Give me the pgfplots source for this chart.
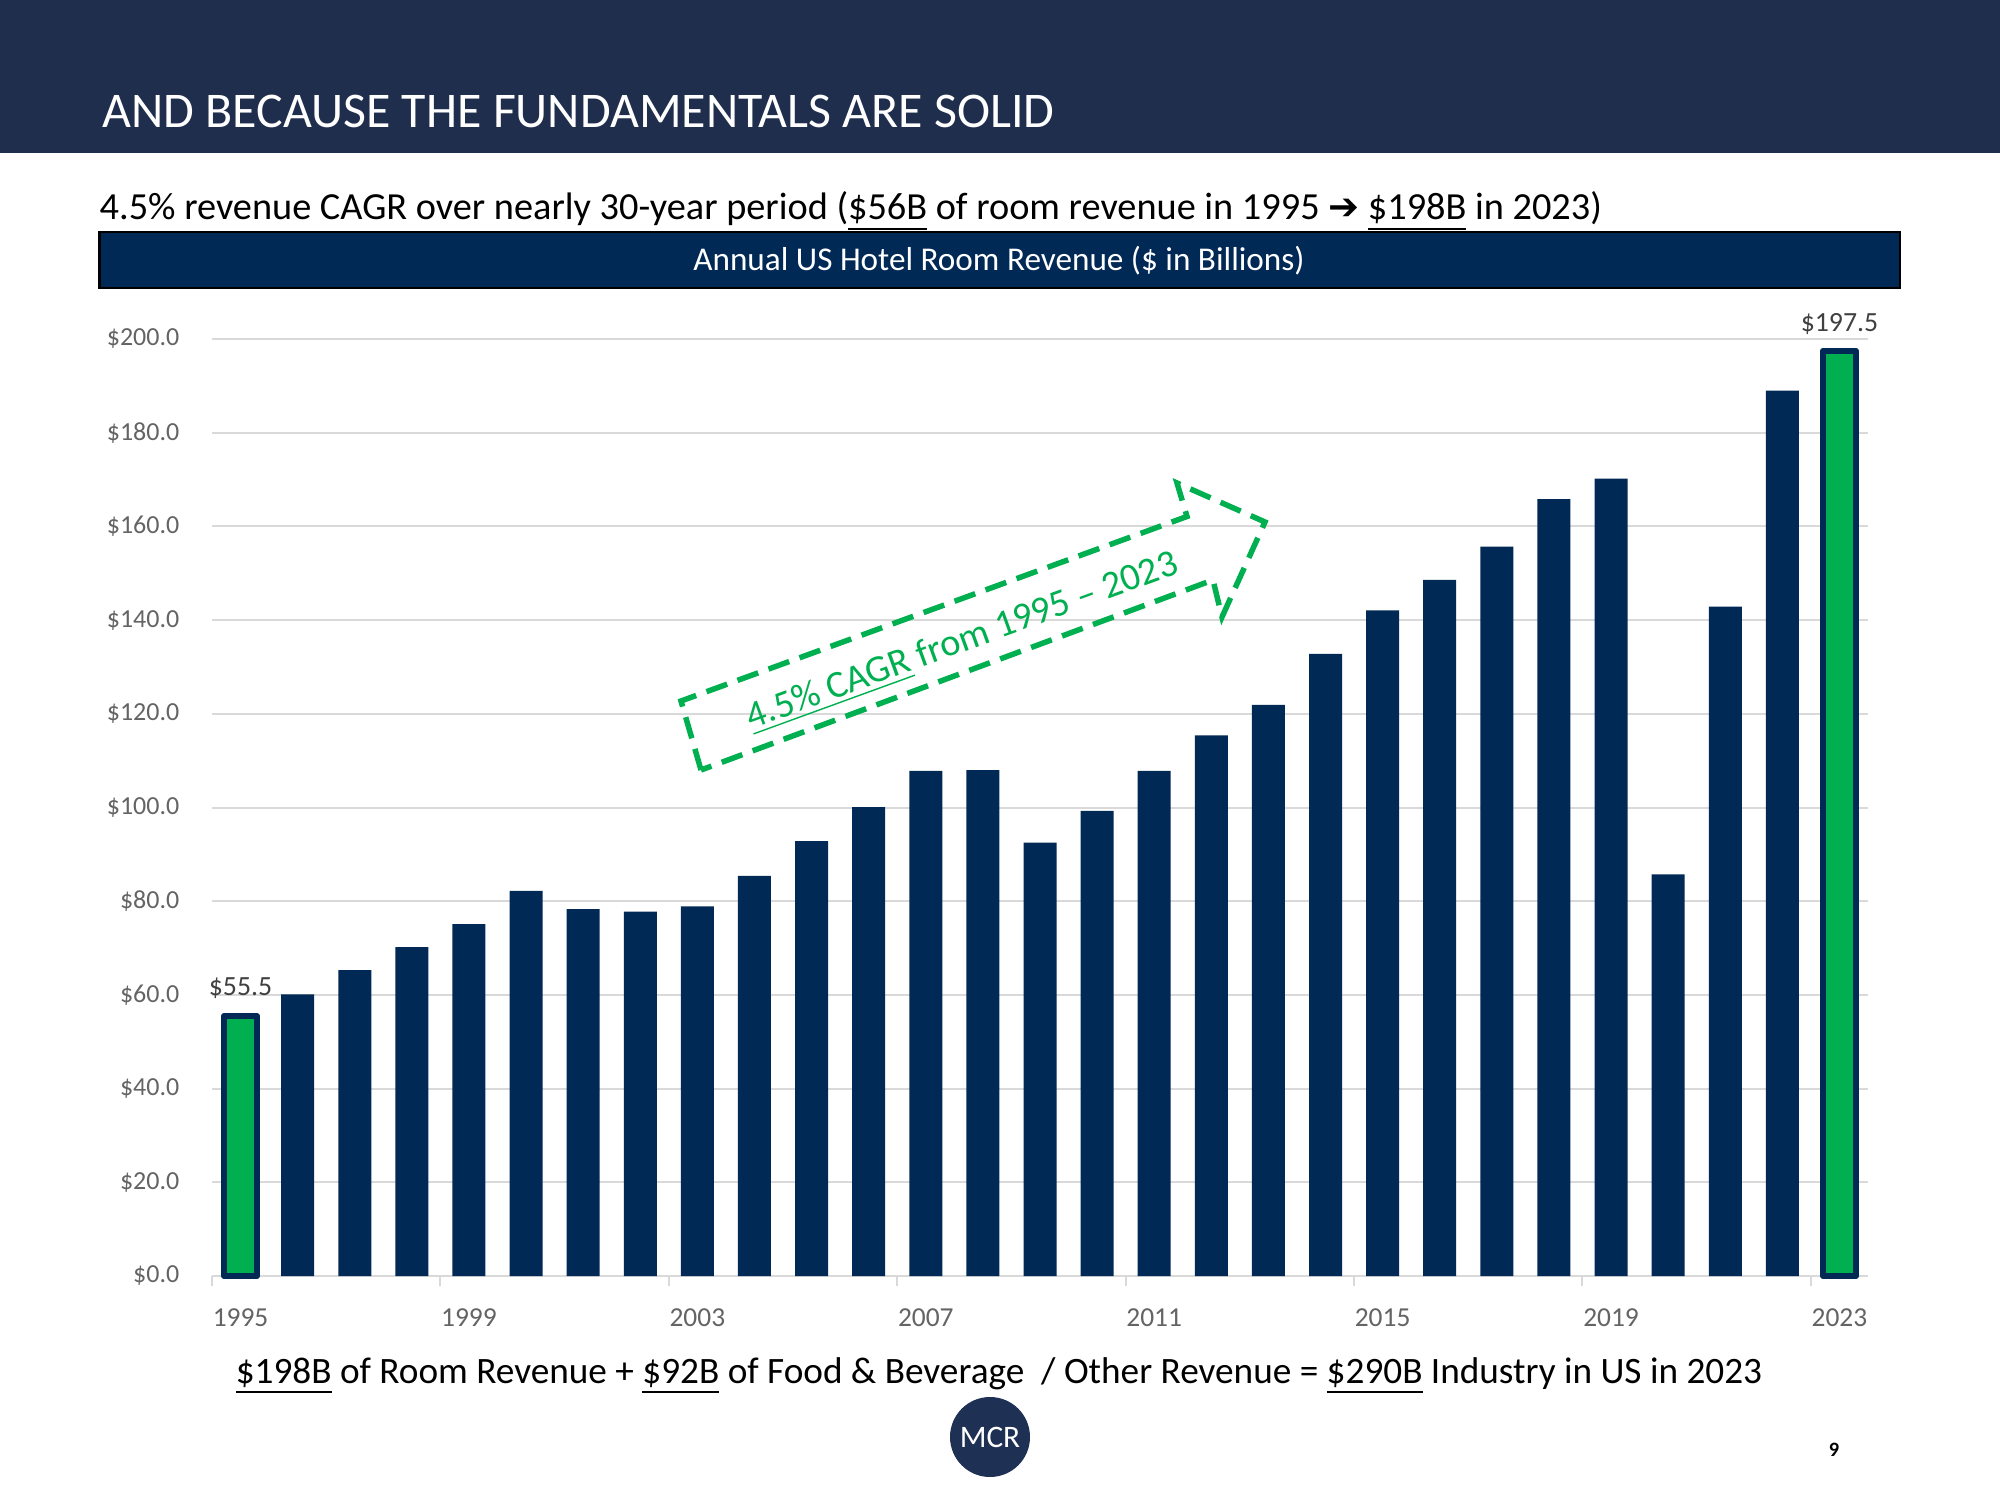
\documentclass[border=0pt]{standalone}
\usepackage{fontspec}
\setmainfont{Carlito}
\newfontfamily\dejavu{DejaVu Sans}
\usepackage{pgfplots}
\usepackage{pgfplotstable}
\pgfplotsset{compat=1.18}
\definecolor{headnavy}{RGB}{31,46,77}
\definecolor{barnavy}{RGB}{0,41,86}
\definecolor{bargreen}{RGB}{0,176,80}
\definecolor{gridgray}{RGB}{217,217,217}
\definecolor{ticklab}{RGB}{100,100,100}
\definecolor{datalab}{RGB}{64,64,64}
\definecolor{logonavy}{RGB}{31,48,85}

\pgfplotstableread{
x y
1 60.1
2 65.3
3 70.2
4 75.1
5 82.2
6 78.3
7 77.8
8 78.9
9 85.4
10 92.8
11 100.1
12 107.8
13 108.0
14 92.5
15 99.3
16 107.8
17 115.4
18 121.9
19 132.8
20 142.1
21 148.6
22 155.7
23 165.8
24 170.2
25 85.7
26 142.9
27 189.0
}\midbars
\pgfplotstableread{
x y
0 55.5
28 197.5
}\endbars

\begin{document}
\begin{tikzpicture}[x=1cm,y=1cm]
\fill[white] (0,0) rectangle (20,15);
\useasboundingbox (0,0) rectangle (20,15);
% header
\fill[headnavy] (0,13.47) rectangle (20,15);
\node[anchor=base west, inner sep=0pt, text=white, font=\fontsize{14.2}{16}\selectfont] at (1.02,13.72) {AND BECAUSE THE FUNDAMENTALS ARE SOLID};
% subtitle
\node[anchor=base west, inner sep=0pt, font=\fontsize{10.9}{13}\selectfont] at (0.99,12.80) {4.5\% revenue CAGR over nearly 30-year period (\underline{\$56B} of room revenue in 1995 {\dejavu\fontsize{10.5}{13}\selectfont ➔} \underline{\$198B} in 2023)};
% banner
\filldraw[fill=barnavy, draw=black, line width=0.25mm] (0.995,12.12) rectangle (19.0,12.68);
\node[anchor=base, inner sep=0pt, text=white, font=\fontsize{9.45}{11}\selectfont] at (9.99,12.29) {Annual US Hotel Room Revenue (\$ in Billions)};

\begin{axis}[
  at={(2.12cm,2.24cm)}, anchor=south west,
  scale only axis, width=16.56cm, height=9.37cm,
  xmin=-0.5, xmax=28.5, ymin=0, ymax=200,
  clip=false,
  axis lines*=left,
  y axis line style={draw=none},
  x axis line style={-, draw=gridgray, line width=0.25mm},
  ytick={0,20,...,200},
  yticklabels={\$0.0,\$20.0,\$40.0,\$60.0,\$80.0,\$100.0,\$120.0,\$140.0,\$160.0,\$180.0,\$200.0},
  ytick style={draw=none},
  ymajorgrids,
  grid style={draw=gridgray, line width=0.2mm},
  xtick={0,4,...,28},
  xticklabels={1995,1999,2003,2007,2011,2015,2019,2023},
  xtick style={draw=none},
  extra x ticks={-0.5,3.5,...,27.5},
  extra x tick labels={},
  extra x tick style={tick align=outside, major tick length=1mm, xtick style={draw=gridgray, line width=0.2mm}},
  yticklabel style={anchor=east, inner sep=0pt, xshift=-3.2mm, text=ticklab, font=\fontsize{7.4}{9}\selectfont},
  xticklabel style={anchor=base, inner sep=0pt, yshift=-5mm, text=ticklab, font=\fontsize{7.8}{9}\selectfont},
]
\addplot[ybar, bar width=3.3mm, bar shift=0pt, fill=barnavy, draw=none] table[x=x,y=y] {\midbars};
\addplot[ybar, bar width=3.3mm, bar shift=0pt, fill=bargreen, draw=barnavy, line width=0.6mm, line join=round] table[x=x,y=y] {\endbars};
\node[anchor=base, inner sep=0pt, text=datalab, font=\fontsize{7.9}{9}\selectfont, yshift=2mm] at (axis cs:0,55.5) {\$55.5};
\node[anchor=base, inner sep=0pt, text=datalab, font=\fontsize{7.9}{9}\selectfont, yshift=1.9mm] at (axis cs:28,197.5) {\$197.5};
\end{axis}

% CAGR arrow
\draw[bargreen, line width=0.55mm, dash pattern=on 2.2mm off 1.1mm, line join=miter]
  (7.01,7.30) -- (6.81,7.99) -- (11.87,9.835) -- (11.77,10.17) -- (12.65,9.78) -- (12.22,8.83) -- (12.13,9.20) -- cycle;
\node[anchor=base, inner sep=0pt, rotate=20, text=bargreen, font=\fontsize{10.9}{12}\selectfont] at (9.66,8.49) {\underline{4.5\% CAGR} from 1995 – 2023};

% bottom text
\node[anchor=base, inner sep=0pt, font=\fontsize{10.6}{12}\selectfont] at (9.99,1.17) {\underline{\$198B} of Room Revenue + \underline{\$92B} of Food \& Beverage\ \ / Other Revenue = \underline{\$290B} Industry in US in 2023};

% logo
\fill[logonavy] (9.90,0.63) circle (0.40);
\node[text=white, inner sep=0pt, font=\fontsize{8.9}{10}\selectfont] at (9.90,0.63) {MCR};
% page number
\node[inner sep=0pt, font=\bfseries\fontsize{5.8}{7}\selectfont] at (18.34,0.50) {9};
\end{tikzpicture}
\end{document}
